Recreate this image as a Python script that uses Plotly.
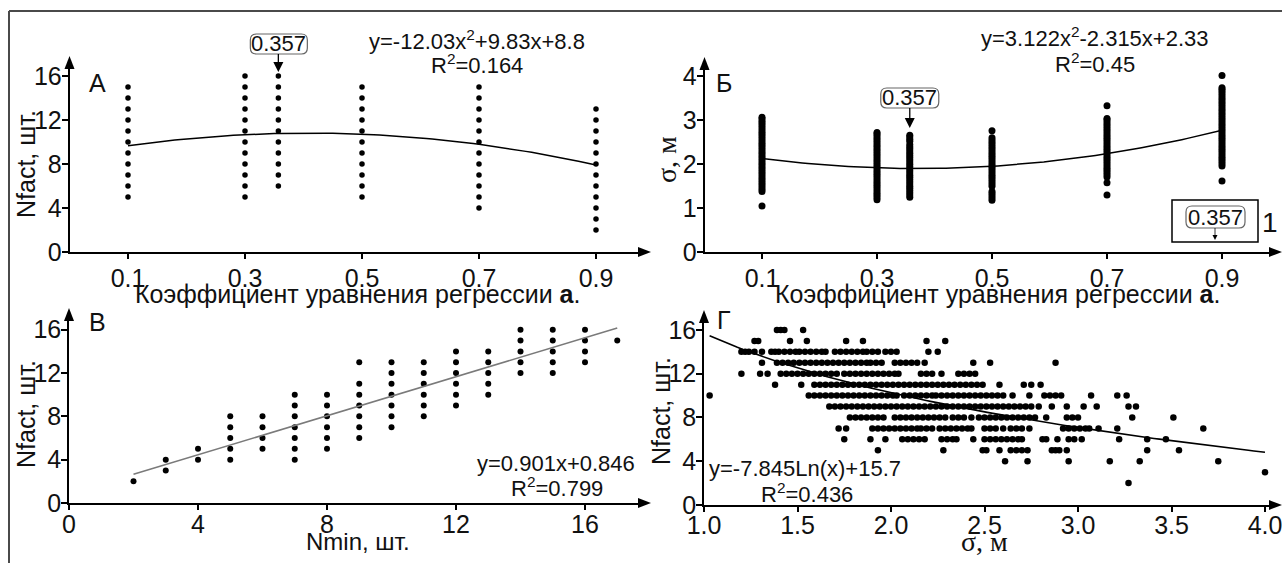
import math
import plotly.graph_objects as go

W, H = 1282, 563
SANS = "Liberation Sans, Arial, sans-serif"
SERIF = "Liberation Serif, Times New Roman, serif"
INK = "#111111"

# ---------------- data ----------------
# Panel А : Nfact vs regression coefficient a
A_COEF = [0.1, 0.3, 0.357, 0.5, 0.7, 0.9]
A_NFACT = [
    [5, 6, 7, 8, 9, 10, 11, 12, 13, 14, 15],
    [5, 6, 7, 8, 9, 10, 11, 12, 13, 14, 15, 16],
    [6, 7, 8, 9, 10, 11, 12, 13, 14, 15, 16],
    [5, 6, 7, 8, 9, 10, 11, 12, 13, 14, 15],
    [4, 5, 6, 7, 8, 9, 10, 11, 12, 13, 14, 15],
    [2, 3, 4, 5, 6, 7, 8, 9, 10, 11, 12, 13],
]
A_FIT = (-12.03, 9.83, 8.8)

# Panel Б : sigma vs regression coefficient a
B_COEF = [0.1, 0.3, 0.357, 0.5, 0.7, 0.9]
B_SIGMA = [
    [1.05, 1.38, 1.43, 1.48, 1.53, 1.58, 1.63, 1.68, 1.73, 1.78, 1.83, 1.88, 1.93, 1.98, 2.03,
     2.08, 2.13, 2.18, 2.23, 2.28, 2.33, 2.38, 2.43, 2.48, 2.53, 2.58, 2.63, 2.68, 2.73, 2.78,
     2.83, 2.88, 2.93, 2.98, 3.03, 3.07],
    [1.19, 1.24, 1.29, 1.34, 1.39, 1.44, 1.49, 1.54, 1.59, 1.64, 1.69, 1.74, 1.79, 1.84, 1.89,
     1.94, 1.99, 2.04, 2.09, 2.14, 2.19, 2.24, 2.29, 2.34, 2.39, 2.44, 2.49, 2.54, 2.59, 2.64,
     2.69, 2.72],
    [1.25, 1.30, 1.35, 1.40, 1.45, 1.50, 1.55, 1.60, 1.65, 1.70, 1.75, 1.80, 1.85, 1.90, 1.95,
     2.00, 2.05, 2.10, 2.15, 2.20, 2.25, 2.30, 2.35, 2.40, 2.45, 2.52, 2.57, 2.62, 2.66],
    [1.18, 1.23, 1.28, 1.33, 1.38, 1.50, 1.55, 1.60, 1.65, 1.70, 1.75, 1.80, 1.85, 1.90, 1.95,
     2.00, 2.05, 2.10, 2.15, 2.20, 2.25, 2.30, 2.35, 2.40, 2.45, 2.50, 2.55, 2.60, 2.76],
    [1.30, 1.58, 1.71, 1.76, 1.81, 1.86, 1.91, 1.96, 2.01, 2.06, 2.11, 2.16, 2.21, 2.26, 2.31,
     2.36, 2.41, 2.46, 2.51, 2.56, 2.61, 2.66, 2.71, 2.76, 2.81, 2.86, 2.91, 2.96, 3.01, 3.04,
     3.33],
    [1.62, 1.96, 2.01, 2.06, 2.11, 2.16, 2.21, 2.26, 2.31, 2.36, 2.41, 2.46, 2.51, 2.56, 2.61,
     2.66, 2.71, 2.76, 2.81, 2.86, 2.91, 2.96, 3.01, 3.06, 3.11, 3.16, 3.21, 3.26, 3.31, 3.36,
     3.41, 3.46, 3.51, 3.56, 3.61, 3.66, 3.71, 3.74, 4.02],
]
B_FIT = (3.122, -2.315, 2.33)

# Panel В : Nfact vs Nmin
V_NMIN = [2, 3, 4, 5, 6, 7, 8, 9, 10, 11, 12, 13, 14, 15, 16, 17]
V_NFACT = [
    [2], [3, 4], [4, 5], [4, 5, 6, 7, 8], [5, 6, 7, 8], [4, 5, 6, 7, 8, 9, 10],
    [5, 6, 7, 8, 9, 10], [6, 7, 8, 9, 10, 11, 13], [7, 8, 9, 10, 11, 12, 13],
    [8, 9, 10, 11, 12, 13], [9, 10, 11, 12, 13, 14], [10, 11, 12, 13, 14],
    [12, 13, 14, 15, 16], [12, 13, 14, 15, 16], [13, 14, 15, 16], [15],
]
V_FIT = (0.901, 0.846)

# Panel Г : Nfact vs sigma (rows of equal Nfact)
G_LEVELS = [16, 15, 14, 13, 12, 11, 10, 9, 8, 7, 6, 5, 4, 3, 2]
G_SIGMA = [
    [1.39, 1.41, 1.43, 1.53],
    [1.27, 1.29, 1.46, 1.55, 1.76, 1.85, 2.19, 2.29],
    [1.20, 1.22, 1.24, 1.27, 1.31, 1.36, 1.38, 1.40, 1.43, 1.46, 1.49, 1.51, 1.54, 1.57, 1.60,
     1.63, 1.65, 1.70, 1.73, 1.76, 1.79, 1.82, 1.85, 1.87, 1.90, 1.93, 1.97, 2.00, 2.03, 2.20, 2.25],
    [1.31, 1.39, 1.42, 1.45, 1.48, 1.51, 1.54, 1.57, 1.60, 1.63, 1.66, 1.69, 1.72, 1.75, 1.78,
     1.81, 1.84, 1.87, 1.89, 1.92, 1.95, 2.02, 2.05, 2.08, 2.11, 2.14, 2.18, 2.44, 2.53, 2.88],
    [1.20, 1.30, 1.34, 1.41, 1.44, 1.47, 1.50, 1.53, 1.56, 1.59, 1.62, 1.65, 1.68, 1.71, 1.75,
     1.78, 1.81, 1.84, 1.87, 1.90, 1.93, 1.96, 1.99, 2.02, 2.04, 2.16, 2.19, 2.22, 2.27, 2.36,
     2.39, 2.42, 2.45],
    [1.38, 1.52, 1.59, 1.62, 1.65, 1.68, 1.71, 1.74, 1.77, 1.80, 1.83, 1.86, 1.89, 1.92, 1.95,
     1.98, 2.01, 2.04, 2.07, 2.10, 2.13, 2.16, 2.19, 2.22, 2.25, 2.28, 2.31, 2.34, 2.37, 2.40,
     2.43, 2.46, 2.49, 2.58, 2.71, 2.75, 2.80],
    [1.03, 1.56, 1.59, 1.62, 1.65, 1.68, 1.71, 1.74, 1.77, 1.80, 1.83, 1.86, 1.89, 1.92, 1.95,
     1.98, 2.01, 2.03, 2.07, 2.10, 2.13, 2.16, 2.19, 2.22, 2.24, 2.27, 2.30, 2.33, 2.36, 2.39,
     2.42, 2.45, 2.48, 2.51, 2.54, 2.57, 2.60, 2.65, 2.74, 2.82, 2.85, 2.88, 2.91, 3.07, 3.21,
     3.26],
    [1.67, 1.70, 1.73, 1.76, 1.79, 1.82, 1.85, 1.88, 1.91, 1.94, 1.97, 2.00, 2.03, 2.06, 2.09,
     2.12, 2.15, 2.18, 2.21, 2.24, 2.27, 2.30, 2.33, 2.36, 2.39, 2.42, 2.45, 2.48, 2.51, 2.54,
     2.57, 2.60, 2.63, 2.66, 2.69, 2.72, 2.75, 2.79, 2.86, 2.94, 3.03, 3.10, 3.27, 3.31],
    [1.78, 1.81, 1.84, 1.87, 1.90, 1.93, 1.96, 2.02, 2.05, 2.08, 2.11, 2.14, 2.17, 2.20, 2.23,
     2.26, 2.29, 2.33, 2.36, 2.39, 2.43, 2.47, 2.50, 2.53, 2.56, 2.59, 2.62, 2.65, 2.68, 2.71,
     2.74, 2.77, 2.83, 2.94, 2.97, 3.00, 3.29, 3.51],
    [1.72, 1.76, 1.90, 1.93, 1.96, 1.99, 2.02, 2.05, 2.08, 2.11, 2.14, 2.16, 2.19, 2.22, 2.26,
     2.29, 2.32, 2.35, 2.38, 2.41, 2.43, 2.50, 2.53, 2.56, 2.60, 2.64, 2.67, 2.70, 2.74, 2.92,
     2.95, 2.98, 3.01, 3.04, 3.06, 3.11, 3.21, 3.67],
    [1.75, 1.89, 1.97, 2.06, 2.09, 2.12, 2.15, 2.18, 2.27, 2.30, 2.33, 2.35, 2.44, 2.50, 2.53,
     2.56, 2.59, 2.62, 2.65, 2.68, 2.70, 2.81, 2.83, 2.89, 2.95, 2.98, 3.02, 3.22, 3.37, 3.47],
    [1.93, 2.28, 2.49, 2.51, 2.58, 2.64, 2.67, 2.70, 2.73, 2.86, 2.88, 2.90, 2.94, 3.37, 3.54],
    [2.61, 2.73, 2.95, 3.17, 3.33, 3.75],
    [4.00],
    [3.27],
]
G_FIT = (-7.845, 15.7)

# tick labels
A_XTICKS = [0.1, 0.3, 0.5, 0.7, 0.9]
NF_YTICKS = [0, 4, 8, 12, 16]
B_YTICKS = [0, 1, 2, 3, 4]
V_XTICKS = [0, 4, 8, 12, 16]
G_XTICKS = [1.0, 1.5, 2.0, 2.5, 3.0, 3.5, 4.0]
MARK_VALUE = 0.357

# ---------------- geometry (pixels) ----------------
PANELS = {
    "A": dict(ox=69.5, sx=585.0, xr=(0, 0.977), oy=252, sy=11.0, yr=(0, 17.1), xtip=651, ytip=56, xstand=-2),
    "B": dict(ox=704.5, sx=575.0, xr=(0, 0.987), oy=252, sy=43.9, yr=(0, 4.28), xtip=1282, ytip=57, xstand=-2),
    "V": dict(ox=69.0, sx=32.25, xr=(0, 17.74), oy=503, sy=10.83, yr=(0, 17.27), xtip=651, ytip=308, xstand=-7),
    "G": dict(ox=704.0, sx=187.0, xr=(1.0, 4.032), oy=505, sy=10.94, yr=(0, 17.09), xtip=1282, ytip=310, xstand=-8),
}


def px(panel, x):
    p = PANELS[panel]
    return p["ox"] + p["sx"] * (x - p["xr"][0])


def py(panel, y):
    p = PANELS[panel]
    return p["oy"] - p["sy"] * (y - p["yr"][0])


def PX(x):
    return x / W


def PY(y):
    return 1 - y / H


fig = go.Figure()
shapes = []
annotations = []

axis_names = {"A": ("x", "y"), "B": ("x2", "y2"), "V": ("x3", "y3"), "G": ("x4", "y4")}


def axis_common(size=25):
    return dict(showline=True, linecolor="black", linewidth=1.5, ticks="outside",
                ticklen=6, tickwidth=1.5, tickcolor="black", showgrid=False, zeroline=False,
                automargin=False, ticklabeloverflow="allow",
                tickfont=dict(family=SANS, size=size, color=INK), fixedrange=True)


layout_axes = {}
for key, (xn, yn) in axis_names.items():
    p = PANELS[key]
    xd = [PX(p["ox"]), PX(px(key, p["xr"][1]))]
    yd = [PY(p["oy"]), PY(py(key, p["yr"][1]))]
    xa = axis_common()
    xa.update(domain=xd, range=list(p["xr"]), anchor=yn, ticklen=5, ticklabelstandoff=p["xstand"])
    ya = axis_common()
    ya.update(domain=yd, range=list(p["yr"]), anchor=xn, ticklabelstandoff=-5)
    layout_axes["xaxis" + ("" if xn == "x" else xn[1:])] = xa
    layout_axes["yaxis" + ("" if yn == "y" else yn[1:])] = ya
    ax_x = p["ox"]
    ax_y = p["oy"]
    t = p["ytip"]
    shapes.append(dict(type="path", xref="paper", yref="paper", layer="above",
                       path=f"M {PX(ax_x)} {PY(t)} L {PX(ax_x - 5)} {PY(t + 13)} L {PX(ax_x + 5)} {PY(t + 13)} Z",
                       fillcolor="black", line=dict(width=0)))
    t = p["xtip"]
    shapes.append(dict(type="path", xref="paper", yref="paper", layer="above",
                       path=f"M {PX(t)} {PY(ax_y)} L {PX(t - 13)} {PY(ax_y - 5)} L {PX(t - 13)} {PY(ax_y + 5)} Z",
                       fillcolor="black", line=dict(width=0)))

layout_axes["xaxis"].update(tickvals=A_XTICKS, ticktext=[f"{v:.1f}" for v in A_XTICKS])
layout_axes["yaxis"].update(tickvals=NF_YTICKS)
layout_axes["xaxis2"].update(tickvals=A_XTICKS, ticktext=[f"{v:.1f}" for v in A_XTICKS])
layout_axes["yaxis2"].update(tickvals=B_YTICKS)
layout_axes["xaxis3"].update(tickvals=V_XTICKS)
layout_axes["yaxis3"].update(tickvals=NF_YTICKS)
layout_axes["xaxis4"].update(tickvals=G_XTICKS, ticktext=[f"{v:.1f}" for v in G_XTICKS])
layout_axes["yaxis4"].update(tickvals=NF_YTICKS)


# ---------------- traces ----------------
def dots(xs, ys, xn, yn, size):
    fig.add_trace(go.Scatter(x=xs, y=ys, mode="markers", xaxis=xn, yaxis=yn, cliponaxis=False,
                             marker=dict(color="black", size=size, line=dict(width=0)),
                             showlegend=False, hoverinfo="skip"))


# А
xs, ys = [], []
for c, col in zip(A_COEF, A_NFACT):
    xs += [c] * len(col)
    ys += col
dots(xs, ys, "x", "y", 5.5)
cx = [0.1 + 0.8 * i / 80 for i in range(81)]
fig.add_trace(go.Scatter(x=cx, y=[A_FIT[0] * v * v + A_FIT[1] * v + A_FIT[2] for v in cx],
                         mode="lines", line=dict(color="black", width=1.5), xaxis="x", yaxis="y",
                         showlegend=False, hoverinfo="skip"))

# Б
xs, ys = [], []
for c, col in zip(B_COEF, B_SIGMA):
    xs += [c] * len(col)
    ys += col
dots(xs, ys, "x2", "y2", 7)
fig.add_trace(go.Scatter(x=cx, y=[B_FIT[0] * v * v + B_FIT[1] * v + B_FIT[2] for v in cx],
                         mode="lines", line=dict(color="black", width=1.5), xaxis="x2", yaxis="y2",
                         showlegend=False, hoverinfo="skip"))

# В
xs, ys = [], []
for n, col in zip(V_NMIN, V_NFACT):
    xs += [n] * len(col)
    ys += col
dots(xs, ys, "x3", "y3", 6)
lx = [V_NMIN[0], V_NMIN[-1]]
fig.add_trace(go.Scatter(x=lx, y=[V_FIT[0] * v + V_FIT[1] for v in lx], mode="lines",
                         line=dict(color="#7a7a7a", width=1.6), xaxis="x3", yaxis="y3",
                         showlegend=False, hoverinfo="skip"))

# Г
xs, ys = [], []
for lev, row in zip(G_LEVELS, G_SIGMA):
    xs += row
    ys += [lev] * len(row)
dots(xs, ys, "x4", "y4", 6.5)
gx = [1.03 + (4.0 - 1.03) * i / 100 for i in range(101)]
fig.add_trace(go.Scatter(x=gx, y=[G_FIT[0] * math.log(v) + G_FIT[1] for v in gx], mode="lines",
                         line=dict(color="black", width=1.6), xaxis="x4", yaxis="y4",
                         showlegend=False, hoverinfo="skip"))


# ---------------- texts ----------------
def text(x, y, s, size=22, family=SANS, xanchor="center", angle=0, color=INK):
    annotations.append(dict(x=PX(x), y=PY(y), xref="paper", yref="paper", text=s, showarrow=False,
                            font=dict(family=family, size=size, color=color), xanchor=xanchor,
                            yanchor="middle", textangle=angle))


XT = "Коэффициент уравнения регрессии <b>а</b>."
text(357, 294, XT, size=25)
text(997, 294, XT, size=25)
text(358, 541, "Nmin, шт.", size=24)
text(984, 541, "σ, м", size=28, family=SERIF)
text(26, 164, "Nfact, шт.", size=25, angle=-90)
text(26, 414, "Nfact, шт.", size=25, angle=-90)
text(661, 411, "Nfact, шт.", size=25, angle=-90)
text(666, 160, "σ, м", size=28, family=SERIF, angle=-90)

text(97, 83, "А", size=25)
text(724, 83, "Б", size=25)
text(97, 322, "В", size=25)
text(724, 320, "Г", size=25)

text(477, 40, "y=-12.03x<sup>2</sup>+9.83x+8.8", size=22)
text(477, 64, "R<sup>2</sup>=0.164", size=22)
text(1095, 37, "y=3.122x<sup>2</sup>-2.315x+2.33", size=22)
text(1095, 63, "R<sup>2</sup>=0.45", size=22)
text(556, 463, "y=0.901x+0.846", size=22)
text(557, 487, "R<sup>2</sup>=0.799", size=22)
text(805, 468, "y=-7.845Ln(x)+15.7", size=22)
text(807, 493, "R<sup>2</sup>=0.436", size=22)


def rrect(x0, y0, x1, y1, r, color="#666666", width=1.2):
    path = (f"M {PX(x0 + r)} {PY(y0)} L {PX(x1 - r)} {PY(y0)} Q {PX(x1)} {PY(y0)} {PX(x1)} {PY(y0 + r)} "
            f"L {PX(x1)} {PY(y1 - r)} Q {PX(x1)} {PY(y1)} {PX(x1 - r)} {PY(y1)} "
            f"L {PX(x0 + r)} {PY(y1)} Q {PX(x0)} {PY(y1)} {PX(x0)} {PY(y1 - r)} "
            f"L {PX(x0)} {PY(y0 + r)} Q {PX(x0)} {PY(y0)} {PX(x0 + r)} {PY(y0)} Z")
    shapes.append(dict(type="path", xref="paper", yref="paper", path=path,
                       line=dict(color=color, width=width), fillcolor="rgba(0,0,0,0)"))


def pointer(xc, ytop, ytip, half=5, head=10, lw=1.3):
    shapes.append(dict(type="line", xref="paper", yref="paper", x0=PX(xc), x1=PX(xc),
                       y0=PY(ytop), y1=PY(ytip - head + 1), line=dict(color="black", width=lw)))
    shapes.append(dict(type="path", xref="paper", yref="paper",
                       path=f"M {PX(xc)} {PY(ytip)} L {PX(xc - half)} {PY(ytip - head)} L {PX(xc + half)} {PY(ytip - head)} Z",
                       fillcolor="black", line=dict(width=0)))


xa = px("A", MARK_VALUE)
rrect(xa - 28, 34, xa + 29, 54, 6)
text(xa + 0.5, 44, f"{MARK_VALUE:.3f}", size=22)
pointer(xa, 54, 72)

xb = px("B", MARK_VALUE)
rrect(xb - 29, 88, xb + 29, 108, 6)
text(xb, 98, f"{MARK_VALUE:.3f}", size=22)
pointer(xb, 108, 128)

shapes.append(dict(type="rect", xref="paper", yref="paper", x0=PX(1172), x1=PX(1258), y0=PY(200), y1=PY(242),
                   line=dict(color="black", width=1.5)))
rrect(1186, 206, 1245, 228, 6)
text(1215.5, 217, f"{MARK_VALUE:.3f}", size=22)
pointer(1215, 228, 240, half=2.5, head=5, lw=0.8)
text(1270, 222, "1", size=28)

shapes.append(dict(type="line", xref="paper", yref="paper", x0=PX(9), x1=PX(1282), y0=PY(11), y1=PY(11),
                   line=dict(color="#4a4a4a", width=2)))
shapes.append(dict(type="line", xref="paper", yref="paper", x0=PX(9), x1=PX(9), y0=PY(11), y1=PY(563),
                   line=dict(color="#4a4a4a", width=2)))

fig.update_layout(template="none", width=W, height=H, margin=dict(l=0, r=0, t=0, b=0, pad=0),
                  autosize=False, plot_bgcolor="white", paper_bgcolor="white", showlegend=False,
                  shapes=shapes, annotations=annotations, **layout_axes)

fig.write_html("out.html", config={"displayModeBar": False},
               post_script="document.body.style.margin='0px';document.body.style.overflow='hidden';")
